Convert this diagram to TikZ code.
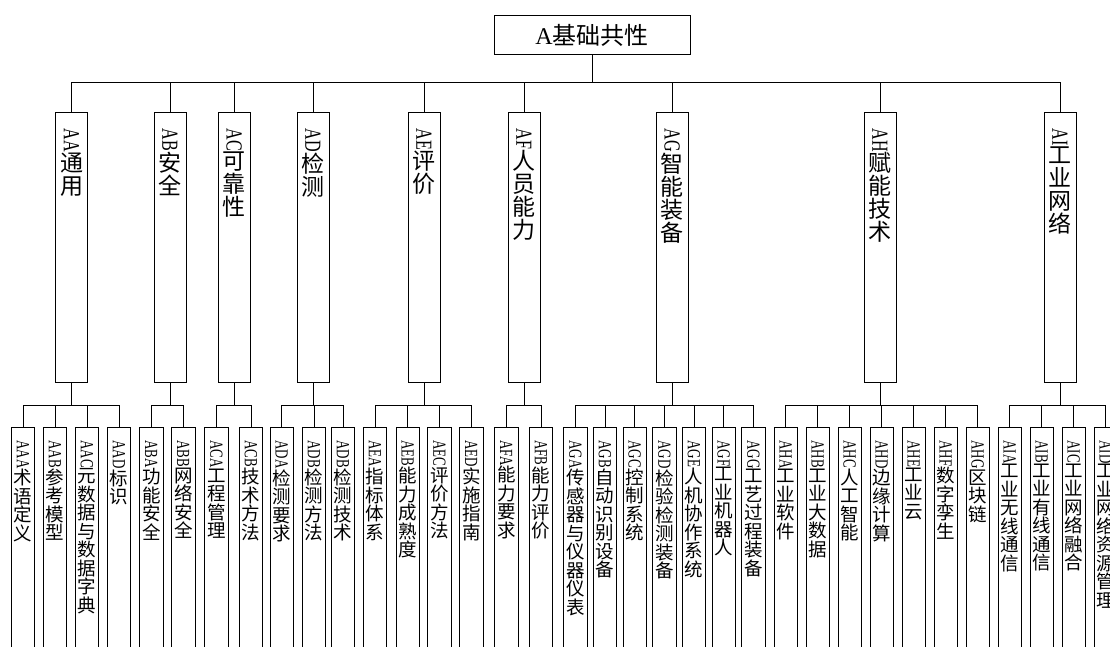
\documentclass[tikz,border=0pt]{standalone}
\usepackage{fontspec}
\usepackage{graphicx}
\setmainfont{Liberation Serif}
\newfontfamily\cjk{Noto Sans CJK SC}

% vertical label: Latin code turned, Chinese characters stacked
\makeatletter
\newcommand{\vlabel}[2]{\rotatebox{-90}{\scalebox{0.7}[1]{#1}}\par
  {\cjk\@tfor\vch:=#2\do{\vch\par}}}
\makeatother
\newcommand{\midlabel}[2]{\parbox[c][270pt][t]{32pt}{\centering\fontsize{23}{23}\selectfont\vspace*{15.7pt}\vlabel{#1}{#2}}}
\newcommand{\leaflabel}[2]{\parbox[c][250pt][t]{23.3pt}{\centering\fontsize{18.5}{18.5}\selectfont\vspace*{13.3pt}\vlabel{#1}{#2}}}

\begin{document}
\begin{tikzpicture}[x=1pt, y=-1pt, line width=0.8pt,
    topbox/.style={draw, rectangle, inner sep=0, minimum width=196, minimum height=38.6, font=\fontsize{24}{24}\selectfont},
    midbox/.style={draw, rectangle, inner sep=0, anchor=north, minimum width=32, minimum height=270},
    leafbox/.style={draw, rectangle, inner sep=0, anchor=north, minimum width=23.3, minimum height=250}]
    \useasboundingbox (0,0) rectangle (1110,646);
    \clip (0,0) rectangle (1110,646);

    % Root
    \node[topbox] (A) at (592,35) {A{\cjk 基础共性}};

    % Second level
    \node[midbox] (AA) at (71.5,112.3) {\midlabel{AA}{通用}};
    \node[midbox] (AB) at (170,112.3) {\midlabel{AB}{安全}};
    \node[midbox] (AC) at (234,112.3) {\midlabel{AC}{可靠性}};
    \node[midbox] (AD) at (313,112.3) {\midlabel{AD}{检测}};
    \node[midbox] (AE) at (424,112.3) {\midlabel{AE}{评价}};
    \node[midbox] (AF) at (524,112.3) {\midlabel{AF}{人员能力}};
    \node[midbox] (AG) at (672,112.3) {\midlabel{AG}{智能装备}};
    \node[midbox] (AH) at (880,112.3) {\midlabel{AH}{赋能技术}};
    \node[midbox] (AI) at (1060,112.3) {\midlabel{AI}{工业网络}};
    \foreach \c in {AA,AB,AC,AD,AE,AF,AG,AH,AI}
        \draw (A.south) -- ++(0,27.4) -| (\c.north);

    % AA group
    \node[leafbox] (AAA) at (23,426.7) {\leaflabel{AAA}{术语定义}};
    \node[leafbox] (AAB) at (55,426.7) {\leaflabel{AAB}{参考模型}};
    \node[leafbox] (AAC) at (87,426.7) {\leaflabel{AAC}{元数据与数据字典}};
    \node[leafbox] (AAD) at (119,426.7) {\leaflabel{AAD}{标识}};
    \foreach \c in {AAA,AAB,AAC,AAD}
        \draw (AA.south) -- ++(0,22.3) -| (\c.north);

    % AB group
    \node[leafbox] (ABA) at (151.3,426.7) {\leaflabel{ABA}{功能安全}};
    \node[leafbox] (ABB) at (183.3,426.7) {\leaflabel{ABB}{网络安全}};
    \foreach \c in {ABA,ABB}
        \draw (AB.south) -- ++(0,22.3) -| (\c.north);

    % AC group
    \node[leafbox] (ACA) at (216.3,426.7) {\leaflabel{ACA}{工程管理}};
    \node[leafbox] (ACB) at (251,426.7) {\leaflabel{ACB}{技术方法}};
    \foreach \c in {ACA,ACB}
        \draw (AC.south) -- ++(0,22.3) -| (\c.north);

    % AD group
    \node[leafbox] (ADA) at (281.7,426.7) {\leaflabel{ADA}{检测要求}};
    \node[leafbox] (ADB) at (314,426.7) {\leaflabel{ADB}{检测方法}};
    \node[leafbox] (ADC) at (343,426.7) {\leaflabel{ADB}{检测技术}};
    \foreach \c in {ADA,ADB,ADC}
        \draw (AD.south) -- ++(0,22.3) -| (\c.north);

    % AE group
    \node[leafbox] (AEA) at (375,426.7) {\leaflabel{AEA}{指标体系}};
    \node[leafbox] (AEB) at (407.7,426.7) {\leaflabel{AEB}{能力成熟度}};
    \node[leafbox] (AEC) at (439.3,426.7) {\leaflabel{AEC}{评价方法}};
    \node[leafbox] (AED) at (471.3,426.7) {\leaflabel{AED}{实施指南}};
    \foreach \c in {AEA,AEB,AEC,AED}
        \draw (AE.south) -- ++(0,22.3) -| (\c.north);

    % AF group
    \node[leafbox] (AFA) at (506.3,426.7) {\leaflabel{AFA}{能力要求}};
    \node[leafbox] (AFB) at (541,426.7) {\leaflabel{AFB}{能力评价}};
    \foreach \c in {AFA,AFB}
        \draw (AF.south) -- ++(0,22.3) -| (\c.north);

    % AG group
    \node[leafbox] (AGA) at (575.3,426.7) {\leaflabel{AGA}{传感器与仪器仪表}};
    \node[leafbox] (AGB) at (605,426.7) {\leaflabel{AGB}{自动识别设备}};
    \node[leafbox] (AGC) at (634.7,426.7) {\leaflabel{AGC}{控制系统}};
    \node[leafbox] (AGD) at (664.3,426.7) {\leaflabel{AGD}{检验检测装备}};
    \node[leafbox] (AGE) at (694,426.7) {\leaflabel{AGE}{人机协作系统}};
    \node[leafbox] (AGF) at (723.7,426.7) {\leaflabel{AGF}{工业机器人}};
    \node[leafbox] (AGG) at (753.3,426.7) {\leaflabel{AGG}{工艺过程装备}};
    \foreach \c in {AGA,AGB,AGC,AGD,AGE,AGF,AGG}
        \draw (AG.south) -- ++(0,22.3) -| (\c.north);

    % AH group
    \node[leafbox] (AHA) at (785.7,426.7) {\leaflabel{AHA}{工业软件}};
    \node[leafbox] (AHB) at (817.7,426.7) {\leaflabel{AHB}{工业大数据}};
    \node[leafbox] (AHC) at (849.7,426.7) {\leaflabel{AHC}{人工智能}};
    \node[leafbox] (AHD) at (881.7,426.7) {\leaflabel{AHD}{边缘计算}};
    \node[leafbox] (AHE) at (913.7,426.7) {\leaflabel{AHE}{工业云}};
    \node[leafbox] (AHF) at (945.7,426.7) {\leaflabel{AHF}{数字孪生}};
    \node[leafbox] (AHG) at (977.7,426.7) {\leaflabel{AHG}{区块链}};
    \foreach \c in {AHA,AHB,AHC,AHD,AHE,AHF,AHG}
        \draw (AH.south) -- ++(0,22.3) -| (\c.north);

    % AI group
    \node[leafbox] (AIA) at (1009.7,426.7) {\leaflabel{AIA}{工业无线通信}};
    \node[leafbox] (AIB) at (1041.7,426.7) {\leaflabel{AIB}{工业有线通信}};
    \node[leafbox] (AIC) at (1073.7,426.7) {\leaflabel{AIC}{工业网络融合}};
    \node[leafbox] (AID) at (1105.7,426.7) {\leaflabel{AID}{工业网络资源管理}};
    \foreach \c in {AIA,AIB,AIC,AID}
        \draw (AI.south) -- ++(0,22.3) -| (\c.north);
\end{tikzpicture}
\end{document}
